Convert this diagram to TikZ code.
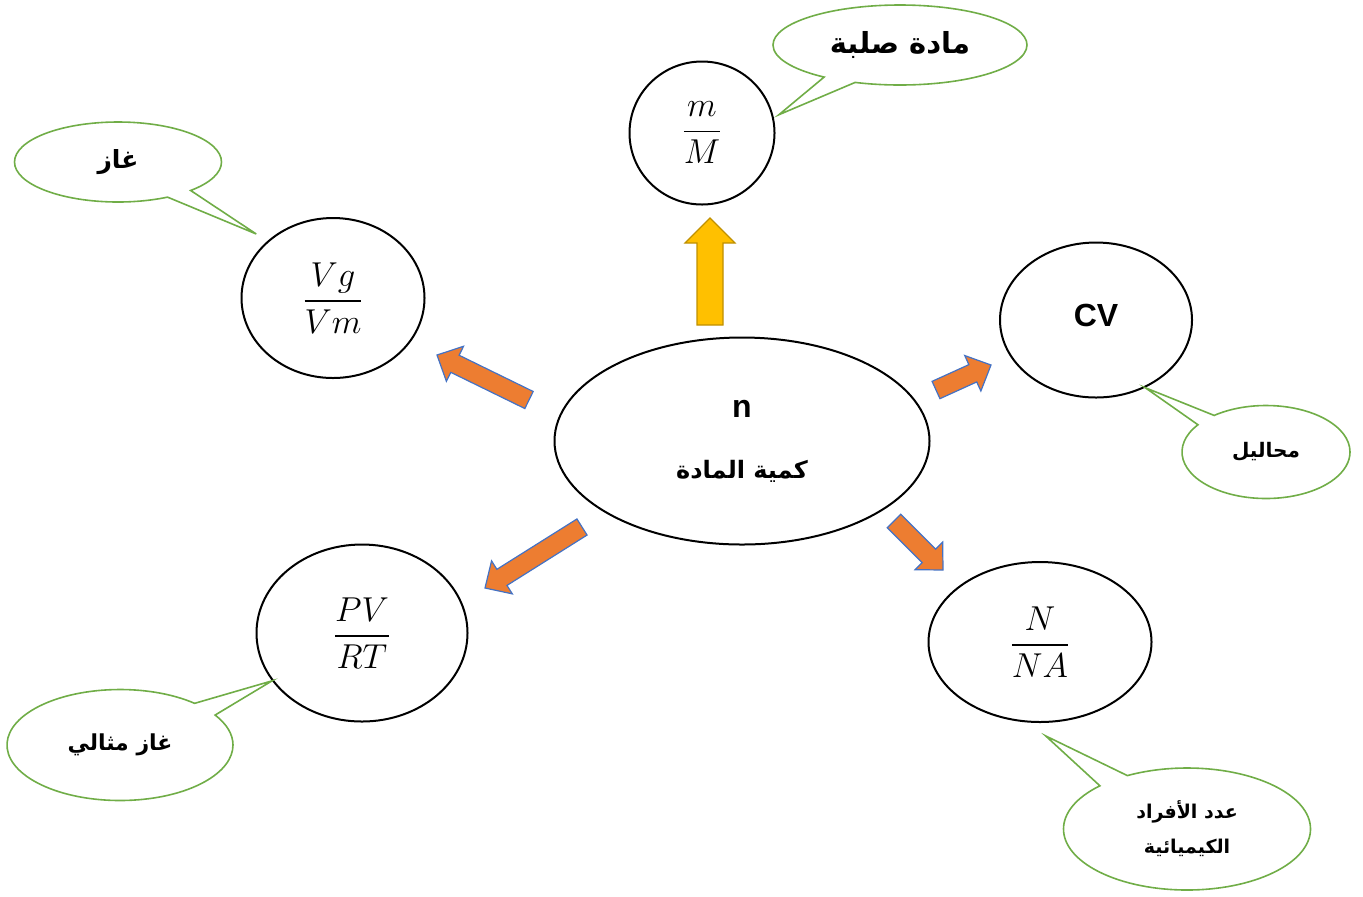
\documentclass[tikz,border=0pt]{standalone}
\usepackage{amsmath}
\usepackage{fontspec}
\setsansfont{Liberation Sans}
\newfontfamily\arabicfont[Script=Arabic]{DejaVu Sans}
\TeXXeTstate=1
\usetikzlibrary{calc,shapes.geometric,shapes.callouts}

\definecolor{arroworange}{HTML}{ED7D31}
\definecolor{arrowblue}{HTML}{4472C4}
\definecolor{arrowgold}{HTML}{FFC000}
\definecolor{arrowgolddark}{HTML}{BF9000}
\definecolor{notegreen}{HTML}{70AD47}

% block arrow: [style]{tail}{tip}{half shaft}{half head}{head length}
\newcommand{\fatarrow}[6][]{%
  \coordinate (hb) at ($(#3)!#6!(#2)$);
  \draw[#1] ($(#2)!#4!90:(#3)$) -- ($(hb)!#4!-90:(#2)$) -- ($(hb)!#5!-90:(#2)$)
    -- (#3) -- ($(hb)!#5!90:(#2)$) -- ($(hb)!#4!90:(#2)$) -- ($(#2)!#4!-90:(#3)$) -- cycle;}

\begin{document}
\begin{tikzpicture}[x=0.5pt, y=-0.5pt,
  bubble/.style={ellipse, draw=black, line width=1pt, inner sep=0pt},
  frac/.style={font=\fontsize{17.28}{20}\selectfont},
  note/.style={ellipse callout, draw=notegreen, line width=0.8pt, inner sep=0pt,
    callout pointer arc=16, align=center,
    font=\arabicfont\bfseries\fontsize{11}{17.5}\selectfont},
  orangearrow/.style={fill=arroworange, draw=arrowblue, line width=0.6pt},
  goldarrow/.style={fill=arrowgold, draw=arrowgolddark, line width=0.6pt}]
  \useasboundingbox (0,0) rectangle (1363,896);

  % centre
  \node[bubble, minimum width=187.5pt, minimum height=103.5pt, align=center,
        font=\fontsize{16}{30.5}\selectfont] (n) at (742,441)
    {{\sffamily\bfseries n}\\
     {\arabicfont\bfseries\fontsize{12}{30.5}\selectfont\beginR كمية المادة\endR}};

  % the five ways
  \node[bubble, minimum width=72.5pt, minimum height=71.5pt, frac] (mM) at (702,133) {$\dfrac{m}{M}$};
  \node[bubble, minimum width=91.5pt, minimum height=80pt, frac] (VgVm) at (333,298) {$\dfrac{Vg}{Vm}$};
  \node[bubble, minimum width=96pt, minimum height=77.5pt,
        font=\sffamily\bfseries\fontsize{16}{19}\selectfont] (CV) at (1096,320) {\raisebox{5pt}{CV}};
  \node[bubble, minimum width=105.5pt, minimum height=88.5pt, frac] (PVRT) at (362,633) {$\dfrac{PV}{RT}$};
  \node[bubble, minimum width=111.5pt, minimum height=80pt, frac] (NNA) at (1040,642) {$\dfrac{N}{NA}$};

  % tips of the callouts
  \coordinate (tipS) at ($(mM.12)+(5,-3)$);
  \coordinate (tipG) at ($(VgVm.140)+(-10,-8)$);
  \coordinate (tipL) at (CV.-54);
  \coordinate (tipI) at (PVRT.208);
  \coordinate (tipP) at ($(NNA.-86)+(0,13)$);

  \node[note, minimum width=127pt, minimum height=40pt, callout absolute pointer={(tipS)},
        font=\arabicfont\bfseries\fontsize{14.5}{17.5}\selectfont] (solid) at (900,45)
    {\beginR مادة صلبة\endR};
  \node[note, minimum width=103.5pt, minimum height=40pt, callout absolute pointer={(tipG)},
        font=\arabicfont\bfseries\fontsize{12.5}{17.5}\selectfont] (gas) at (118,162)
    {\beginR غاز\endR};
  \node[note, minimum width=84pt, minimum height=46.5pt, callout absolute pointer={(tipL)},
        font=\arabicfont\bfseries\fontsize{10}{17.5}\selectfont] (liquid) at (1266,452)
    {\beginR محاليل\endR};
  \node[note, minimum width=113pt, minimum height=55.5pt, callout absolute pointer={(tipI)}] (idealgas) at (120,745)
    {\beginR غاز مثالي\endR};
  \node[note, minimum width=123.5pt, minimum height=61pt, callout absolute pointer={(tipP)},
        font=\arabicfont\bfseries\fontsize{9.5}{17.5}\selectfont] (particles) at (1187,829)
    {\beginR عدد الأفراد\endR\\ \beginR الكيميائية\endR};

  % block arrows out of the centre
  \coordinate (a1) at (529,400); \coordinate (b1) at (437,355);
  \coordinate (a2) at (582,527); \coordinate (b2) at (485,588);
  \coordinate (a3) at (936,390); \coordinate (b3) at (991,365);
  \coordinate (a4) at (894,521); \coordinate (b4) at (943,570);
  \foreach \i in {1,...,4}
    \fatarrow[orangearrow]{a\i}{b\i}{4.75pt}{9.75pt}{10pt}
  \coordinate (a0) at (710,325); \coordinate (b0) at (710,218);
  \fatarrow[goldarrow]{a0}{b0}{6.5pt}{12.5pt}{12.5pt}
\end{tikzpicture}
\end{document}
